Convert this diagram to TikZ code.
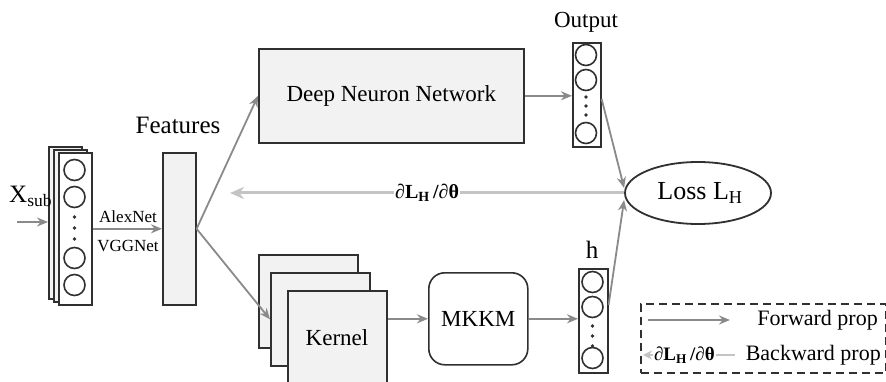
\documentclass[tikz,border=0pt]{standalone}
\usepackage{fontspec}
\setmainfont{Liberation Serif}
\usetikzlibrary{arrows.meta,shapes.geometric,calc}
\definecolor{arrgray}{HTML}{8A8A8A}
\definecolor{backgray}{HTML}{C4C4C4}
\definecolor{boxfill}{HTML}{F2F2F2}
\definecolor{edgec}{HTML}{303030}
\newcommand\fsz[1]{\fontsize{#1}{#1}\selectfont}
\newcommand\dlab{\textbf{∂L\textsubscript{H}\,/∂θ}}
\begin{document}
\begin{tikzpicture}[x=1pt,y=-1pt,
  sheet/.style={draw=edgec, line width=1.6pt, fill=boxfill, anchor=north west, inner sep=0pt},
  wsheet/.style={draw=edgec, line width=1.6pt, fill=white, anchor=north west, inner sep=0pt},
  neuron/.style={circle, draw=edgec, line width=1.6pt, minimum size=21pt, inner sep=0pt, fill=white},
  ndot/.style={circle, fill=edgec, minimum size=3.8pt, inner sep=0pt},
  lbl/.style={inner sep=0pt, font=\fsz{22}},
  fwd/.style={draw=arrgray, line width=1.8pt, -{Stealth[length=11pt,width=9pt]}},
  bwd/.style={draw=backgray, line width=3pt, -{Stealth[length=14pt,width=12pt]}},
]
\useasboundingbox (0,0) rectangle (886,382);
\fill[white] (0,0) rectangle (886,382);

% input stack
\node[sheet, minimum width=33pt, minimum height=152pt] (in1) at (48,146) {};
\node[sheet, minimum width=33pt, minimum height=152pt] (in2) at (53,149) {};
\node[wsheet, minimum width=33pt, minimum height=152pt] (in3) at (58,152) {};
\node[neuron] (ic1) at (74.5,170) {};
\node[neuron] (ic2) at (74.5,197) {};
\node[ndot] (id1) at (74.5,217) {};
\node[ndot] (id2) at (74.5,228) {};
\node[ndot] (id3) at (74.5,239) {};
\node[neuron] (ic3) at (74.5,258) {};
\node[neuron] (ic4) at (74.5,285) {};
\node[lbl, font=\fsz{25}, anchor=base west] (xsub) at (9,203) {X\textsubscript{sub}};
\coordinate (xin) at (17,222);

% features
\node[sheet, minimum width=33pt, minimum height=152pt] (feat) at (162,152) {};
\node[lbl, font=\fsz{25}] (featl) at (178,125) {Features};
\node[lbl, font=\fsz{17}] (alex) at (128,217) {AlexNet};
\node[lbl, font=\fsz{17}] (vgg) at (128,246) {VGGNet};

% DNN
\node[sheet, minimum width=265pt, minimum height=94pt] (dnn) at (258,48) {};
\node[lbl, font=\fsz{23}] (dnnl) at (dnn.center) {Deep Neuron Network};

% output
\node[wsheet, minimum width=28pt, minimum height=104pt] (out) at (572,42) {};
\node[neuron] (oc1) at (586,55) {};
\node[neuron] (oc2) at (586,80) {};
\node[ndot] (od1) at (586,97) {};
\node[ndot] (od2) at (586,106) {};
\node[ndot] (od3) at (586,115) {};
\node[neuron] (oc3) at (586,133) {};
\node[lbl, font=\fsz{23}] (outl) at (586,22) {Output};

% loss
\node[ellipse, draw=edgec, line width=1.8pt, fill=white, minimum width=146pt, minimum height=62pt, inner sep=0pt] (loss) at (698,193) {};
\node[lbl, font=\fsz{26}] (lossl) at (700,193) {Loss L\textsubscript{H}};

% kernels
\node[sheet, minimum width=99pt, minimum height=93pt] (k1) at (258,254) {};
\node[sheet, minimum width=99pt, minimum height=93pt] (k2) at (270,272) {};
\node[sheet, minimum width=99pt, minimum height=96pt] (k3) at (287,290) {};
\node[lbl, font=\fsz{23}] (kl) at (337,338) {Kernel};

% MKKM
\node[draw=edgec, line width=1.6pt, fill=white, rounded corners=16pt, minimum width=99pt, minimum height=92pt, anchor=north west, inner sep=0pt] (mkkm) at (428,272) {};
\node[lbl, font=\fsz{23}] (mkkml) at (mkkm.center) {MKKM};

% h
\node[wsheet, minimum width=29pt, minimum height=104pt] (hbox) at (578,268) {};
\node[neuron] (hc1) at (592.5,282) {};
\node[neuron] (hc2) at (592.5,307) {};
\node[ndot] (hd1) at (592.5,326) {};
\node[ndot] (hd2) at (592.5,336) {};
\node[ndot] (hd3) at (592.5,346) {};
\node[neuron] (hc3) at (592.5,358) {};
\node[lbl, font=\fsz{25}] (hl) at (592,250) {h};

% connectors
\draw[fwd] (xin) -- (in1.west |- xin);
\draw[fwd] (in3.east) -- (feat.west);
\draw[fwd] (feat.east) -- (dnn.west);
\draw[fwd] (feat.east) -- (k2.west);
\draw[fwd] (dnn.east) -- (out.west |- dnn.east);
\draw[fwd] (k3.east |- mkkm.west) -- (mkkm.west);
\draw[fwd] (mkkm.east) -- (hbox.west |- mkkm.east);
\draw[fwd] ([yshift=-4pt]out.east) -- ([yshift=5pt]loss.west);
\draw[fwd] ([yshift=16pt]hbox.east) -- ([yshift=-7pt]loss.west);
\coordinate (bl) at (230,193);
\draw[bwd] (loss.west) -- (bl) node[pos=0.5, fill=white, inner sep=1pt, font=\fsz{20}] (blab) {\dlab};

% legend
\node[draw=edgec, line width=1.6pt, dash pattern=on 8pt off 5pt, minimum width=245pt, minimum height=69pt, anchor=north west, inner sep=0pt] (leg) at (640,303) {};
\coordinate (f1) at (648,320);
\coordinate (f2) at (730,320);
\draw[fwd] (f1) -- (f2);
\node[lbl, anchor=east] (fl) at (878,320) {Forward prop};
\coordinate (b1) at (735,355);
\coordinate (b2) at (643,355);
\draw[bwd, line width=2.5pt, -{Stealth[length=9pt,width=9pt]}] (b1) -- (b2) node[pos=0.55, fill=white, inner sep=1pt, font=\fsz{19}] (blab2) {\dlab};
\node[lbl, anchor=east] (bl2) at (881,355) {Backward prop};
\end{tikzpicture}
\end{document}
